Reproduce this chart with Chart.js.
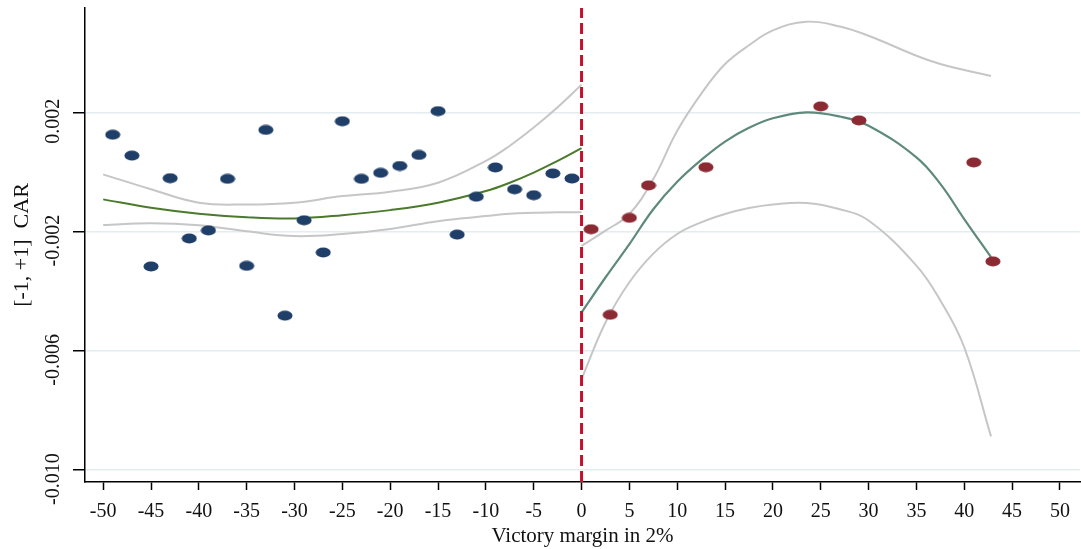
<!DOCTYPE html>
<html>
<head>
    <title>CAR around the victory margin cutoff</title>
    <script src="https://cdn.jsdelivr.net/npm/chart.js"></script>
    <style>
        html, body { margin: 0; padding: 0; background: #fff; }
        #wrap { width: 1081px; height: 549px; }
    </style>
</head>
<body>
    <div id="wrap"><canvas id="rdChart"></canvas></div>

    <script>
        // binned means of [-1, +1] CAR, left and right of the cutoff
        var leftBins = [-49, -47, -45, -43, -41, -39, -37, -35, -33, -31, -29, -27, -25,
                        -23, -21, -19, -17, -15, -13, -11, -9, -7, -5, -3, -1];
        var leftMeans = [0.00125, 0.00055, -0.00317, -0.00021, -0.00223, -0.00196, -0.00023, -0.00315, 0.00141, -0.00482, -0.00162, -0.0027, 0.0017,
                         -0.00023, -0.00003, 0.0002, 0.00057, 0.00204, -0.0021, -0.00083, 0.00015, -0.00058, -0.00078, -0.00005, -0.00022];
        var rightBins = [1, 3, 5, 7, 13, 25, 29, 41, 43];
        var rightMeans = [-0.00192, -0.00479, -0.00154, -0.00045, 0.00016, 0.0022, 0.00173, 0.00032, -0.003];

        var leftFitX = [-50, -45, -40, -35, -30, -25, -20, -15, -10, -7.5, -5, -2.5, 0];
        var leftFit = [-0.00092, -0.0012, -0.0014, -0.00152, -0.00156, -0.00145, -0.00128, -0.00103, -0.00064, -0.00036, -0.00002, 0.00037, 0.0008];
        var leftUpper = [-0.00008, -0.00058, -0.00103, -0.00109, -0.00103, -0.00081, -0.00066, -0.00036, 0.00037, 0.00088, 0.00149, 0.00217, 0.00293];
        var leftLower = [-0.00178, -0.00172, -0.00179, -0.00199, -0.00215, -0.00208, -0.00191, -0.00165, -0.00148, -0.0014, -0.00137, -0.00135, -0.00135];

        var rightFitX = [0, 2.5, 5, 7.5, 10, 12.5, 15, 17.5, 20, 23.5, 27, 30, 35, 37.5, 40, 42.8];
        var rightFit = [-0.00471, -0.00354, -0.00242, -0.00125, -0.00033, 0.0004, 0.00102, 0.00148, 0.0018, 0.002, 0.00186, 0.00155, 0.00049, -0.0004, -0.00158, -0.00286];
        var rightUpper = [-0.00248, -0.00197, -0.00141, -0.00024, 0.00138, 0.00262, 0.00362, 0.00425, 0.00475, 0.00504, 0.00488, 0.00457, 0.0039, 0.00362, 0.00342, 0.00322];
        var rightLower = [-0.00695, -0.00505, -0.0037, -0.00274, -0.00208, -0.00169, -0.00141, -0.00121, -0.00109, -0.00104, -0.00125, -0.00163, -0.00314, -0.00431, -0.00588, -0.00887];

        var cutoff = 0;
        var xTicks = [-50, -45, -40, -35, -30, -25, -20, -15, -10, -5, 0, 5, 10, 15, 20, 25, 30, 35, 40, 45, 50];
        var yTicks = [0.002, -0.002, -0.006, -0.010];
        var yMin = -0.0104, yMax = 0.0055;

        var serif = "'Times New Roman', 'Liberation Serif', serif";

        function pairs(xs, ys) {
            return xs.map(function (x, i) { return { x: x, y: ys[i] }; });
        }

        // Stata style markers are slightly flattened dots
        function ellipseMarker(color) {
            var c = document.createElement('canvas');
            c.width = 16; c.height = 11;
            var g = c.getContext('2d');
            g.fillStyle = color;
            g.beginPath();
            g.ellipse(8, 5.5, 7.5, 5, 0, 0, 2 * Math.PI);
            g.fill();
            return c;
        }

        function curve(xs, ys, color, width, order) {
            return {
                data: pairs(xs, ys),
                showLine: true,
                borderColor: color,
                borderWidth: width,
                pointRadius: 0,
                tension: 0.4,
                order: order
            };
        }

        var ctx = document.getElementById('rdChart').getContext('2d');
        var rdChart = new Chart(ctx, {
            type: 'scatter',
            data: {
                datasets: [
                    curve(leftFitX, leftUpper, '#c6c6c6', 2, 4),
                    curve(leftFitX, leftLower, '#c6c6c6', 2, 4),
                    curve(rightFitX, rightUpper, '#c6c6c6', 2, 4),
                    curve(rightFitX, rightLower, '#c6c6c6', 2, 4),
                    curve(leftFitX, leftFit, '#4b7a2c', 2, 3),
                    curve(rightFitX, rightFit, '#5e8a7b', 2.2, 3),
                    {
                        data: [{ x: cutoff, y: yMin }, { x: cutoff, y: yMax }],
                        showLine: true,
                        borderColor: '#c8102e',
                        borderWidth: 3,
                        borderDash: [11, 5],
                        pointRadius: 0,
                        order: 2
                    },
                    {
                        data: pairs(leftBins, leftMeans),
                        pointStyle: ellipseMarker('#1f3e68'),
                        order: 1
                    },
                    {
                        data: pairs(rightBins, rightMeans),
                        pointStyle: ellipseMarker('#8b2a33'),
                        order: 1
                    }
                ]
            },
            options: {
                responsive: true,
                maintainAspectRatio: false,
                animation: false,
                layout: {
                    autoPadding: false,
                    padding: { top: 8, right: 1, left: 0, bottom: 0 }
                },
                plugins: {
                    legend: { display: false },
                    tooltip: { enabled: false }
                },
                scales: {
                    x: {
                        type: 'linear',
                        min: -51.9,
                        max: 52.1,
                        afterBuildTicks: function (s) {
                            s.ticks = xTicks.map(function (v) { return { value: v }; });
                        },
                        afterFit: function (s) {
                            s.height = 67;
                            s.paddingLeft = 0;
                            s.paddingRight = 0;
                        },
                        ticks: {
                            color: '#111',
                            font: { family: serif, size: 20 },
                            padding: 10,
                            maxRotation: 0,
                            callback: function (v) { return String(v); }
                        },
                        grid: {
                            drawOnChartArea: false,
                            drawTicks: true,
                            tickLength: 8,
                            tickColor: '#000',
                            tickWidth: 1.5
                        },
                        border: { display: true, color: '#000', width: 1.5 },
                        title: {
                            display: true,
                            text: 'Victory margin in 2%',
                            color: '#111',
                            font: { family: serif, size: 21 },
                            padding: { top: 0, bottom: 0 }
                        }
                    },
                    y: {
                        min: yMin,
                        max: yMax,
                        afterBuildTicks: function (s) {
                            s.ticks = yTicks.map(function (v) { return { value: v }; });
                        },
                        afterFit: function (s) {
                            s.width = 85;
                            s.paddingTop = 0;
                            s.paddingBottom = 0;
                        },
                        ticks: {
                            color: '#111',
                            font: { family: serif, size: 20 },
                            minRotation: 90,
                            maxRotation: 90,
                            crossAlign: 'center',
                            padding: -7,
                            labelOffset: 9,
                            callback: function (v) { return v.toFixed(3); }
                        },
                        grid: {
                            color: '#e3ecef',
                            lineWidth: 1.5,
                            tickLength: 12,
                            tickColor: '#000',
                            tickWidth: 1.5
                        },
                        border: { display: true, color: '#000', width: 1.5 },
                        title: {
                            display: true,
                            text: '[-1, +1]  CAR',
                            color: '#111',
                            font: { family: serif, size: 22 },
                            padding: { top: 9, bottom: 0 }
                        }
                    }
                }
            }
        });
    </script>
</body>
</html>
